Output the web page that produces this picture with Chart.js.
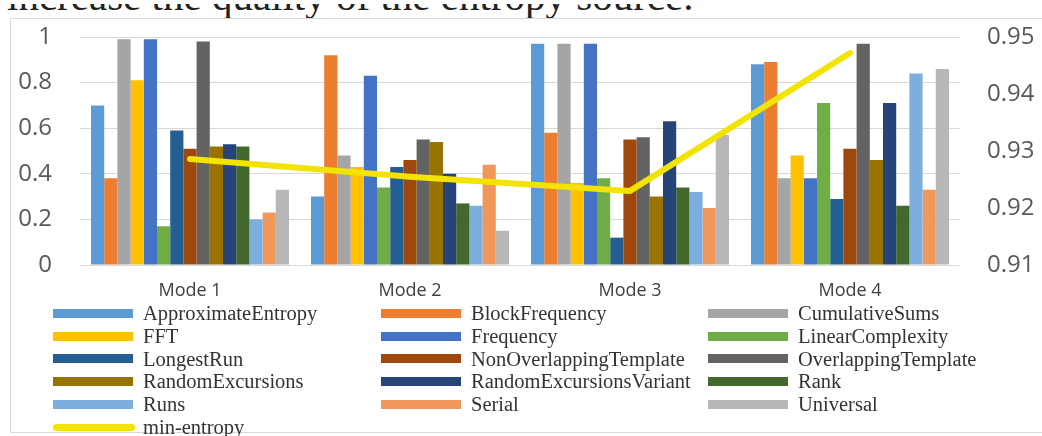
<!DOCTYPE html>
<html>
<head>
<meta charset="utf-8">
<script src="https://cdn.jsdelivr.net/npm/chart.js@4.4.0/dist/chart.umd.min.js"></script>
<style>
  html, body { margin: 0; padding: 0; background: #fff; width: 1042px; height: 436px; overflow: hidden; }
  body { position: relative; }
  #caption { position: absolute; left: 0; top: 4px; width: 1042px; height: 14px; overflow: hidden; }
  #caption span { position: absolute; left: 7px; top: -28px; font: 41px/41px 'Liberation Serif', serif; white-space: nowrap; color: #222; }
  #frame { position: absolute; left: 10px; top: 18px; width: 1100px; height: 415px; border: 1px solid #d9d9d9; box-sizing: border-box; }
  #wrap { position: absolute; left: 0; top: 0; width: 1042px; height: 436px; }
  #legend { position: absolute; left: 53px; top: 302px; display: grid; grid-template-columns: 328px 327px 300px; grid-auto-rows: 22.8px; font: 20.5px 'Liberation Serif', serif; color: #333; }
  #legend .item { display: flex; align-items: center; white-space: nowrap; }
  #legend .sw { width: 80px; height: 9px; margin-right: 10px; flex: none; }
  #legend .sw.line { height: 7px; border-radius: 4px; width: 82px; margin-right: 8px; }
</style>
</head>
<body>
<div id="caption"><span>increase the quality of the entropy source.</span></div>
<div id="frame"></div>
<div id="wrap"><canvas id="chart" width="1042" height="436"></canvas></div>
<div id="legend"></div>
<script>
// Test modes on the x axis
const modes = ['Mode 1', 'Mode 2', 'Mode 3', 'Mode 4'];

// NIST test pass scores per mode (left axis)
const approximateEntropy      = [0.70, 0.30, 0.97, 0.88];
const blockFrequency          = [0.38, 0.92, 0.58, 0.89];
const cumulativeSums          = [0.99, 0.48, 0.97, 0.38];
const fft                     = [0.81, 0.43, 0.36, 0.48];
const frequency               = [0.99, 0.83, 0.97, 0.38];
const linearComplexity        = [0.17, 0.34, 0.38, 0.71];
const longestRun              = [0.59, 0.43, 0.12, 0.29];
const nonOverlappingTemplate  = [0.51, 0.46, 0.55, 0.51];
const overlappingTemplate     = [0.98, 0.55, 0.56, 0.97];
const randomExcursions        = [0.52, 0.54, 0.30, 0.46];
const randomExcursionsVariant = [0.53, 0.40, 0.63, 0.71];
const rank                    = [0.52, 0.27, 0.34, 0.26];
const runs                    = [0.20, 0.26, 0.32, 0.84];
const serial                  = [0.23, 0.44, 0.25, 0.33];
const universal               = [0.33, 0.15, 0.57, 0.86];

// Min-entropy per mode (right axis)
const minEntropy = [0.9286, 0.9255, 0.9230, 0.9472];

// Axis tick values
const leftTicks  = [0, 0.2, 0.4, 0.6, 0.8, 1];
const rightTicks = [0.91, 0.92, 0.93, 0.94, 0.95];

const barSeries = [
  ['ApproximateEntropy', approximateEntropy, '#5B9BD5'],
  ['BlockFrequency', blockFrequency, '#ED7D31'],
  ['CumulativeSums', cumulativeSums, '#A5A5A5'],
  ['FFT', fft, '#FFC000'],
  ['Frequency', frequency, '#4472C4'],
  ['LinearComplexity', linearComplexity, '#70AD47'],
  ['LongestRun', longestRun, '#255E91'],
  ['NonOverlappingTemplate', nonOverlappingTemplate, '#9E480E'],
  ['OverlappingTemplate', overlappingTemplate, '#636363'],
  ['RandomExcursions', randomExcursions, '#997300'],
  ['RandomExcursionsVariant', randomExcursionsVariant, '#264478'],
  ['Rank', rank, '#43682B'],
  ['Runs', runs, '#7CAFDD'],
  ['Serial', serial, '#F1975A'],
  ['Universal', universal, '#B7B7B7']
];

const datasets = barSeries.map(([label, data, color]) => ({
  type: 'bar',
  label, data,
  backgroundColor: color,
  borderWidth: 0,
  categoryPercentage: 0.9,
  barPercentage: 1.0,
  yAxisID: 'y',
  order: 1
}));

datasets.push({
  type: 'line',
  label: 'min-entropy',
  data: minEntropy,
  borderColor: '#F2E400',
  backgroundColor: '#F2E400',
  borderWidth: 6,
  borderCapStyle: 'round',
  borderJoinStyle: 'round',
  pointRadius: 0,
  tension: 0,
  fill: false,
  yAxisID: 'y1',
  order: 0
});

const tickFont = { family: "'Open Sans', sans-serif", size: 24 };

// Fixed axis widths; the tick padding should not push the plot area down
const fitVertical = width => s => {
  s.width = width;
  s.paddingTop = 0;
  s.paddingBottom = 0;
};

const chart = new Chart(document.getElementById('chart'), {
  type: 'bar',
  data: { labels: modes, datasets },
  options: {
    responsive: false,
    animation: false,
    layout: { padding: { top: 37, left: 0, right: 0, bottom: 0 } },
    plugins: { legend: { display: false }, tooltip: { enabled: false } },
    scales: {
      x: {
        offset: true,
        grid: { display: false, drawTicks: false },
        border: { display: false },
        ticks: { color: '#404040', font: { family: "'Open Sans', sans-serif", size: 18 }, padding: 15 },
        afterFit: s => { s.height = 171; }
      },
      y: {
        position: 'left',
        min: 0, max: 1,
        afterBuildTicks: s => { s.ticks = leftTicks.map(v => ({ value: v })); },
        grid: { color: '#d9d9d9', lineWidth: 1, drawTicks: false },
        border: { display: false },
        ticks: { color: '#595959', font: tickFont, padding: 28,
                 callback: v => String(Number(v.toFixed(1))) },
        afterFit: fitVertical(80)
      },
      y1: {
        position: 'right',
        min: 0.91, max: 0.95,
        afterBuildTicks: s => { s.ticks = rightTicks.map(v => ({ value: v })); },
        grid: { display: false, drawTicks: false },
        border: { display: false },
        ticks: { color: '#595959', font: tickFont, padding: 27,
                 callback: v => v.toFixed(2) },
        afterFit: fitVertical(82)
      }
    }
  }
});

// HTML legend laid out in three columns, built from the chart's datasets
const legendEl = document.getElementById('legend');
chart.data.datasets.forEach(ds => {
  const item = document.createElement('div');
  item.className = 'item';
  const sw = document.createElement('span');
  sw.className = 'sw' + (ds.type === 'line' ? ' line' : '');
  sw.style.background = ds.type === 'line' ? ds.borderColor : ds.backgroundColor;
  const txt = document.createElement('span');
  txt.textContent = ds.label;
  item.appendChild(sw);
  item.appendChild(txt);
  legendEl.appendChild(item);
});
</script>
</body>
</html>
